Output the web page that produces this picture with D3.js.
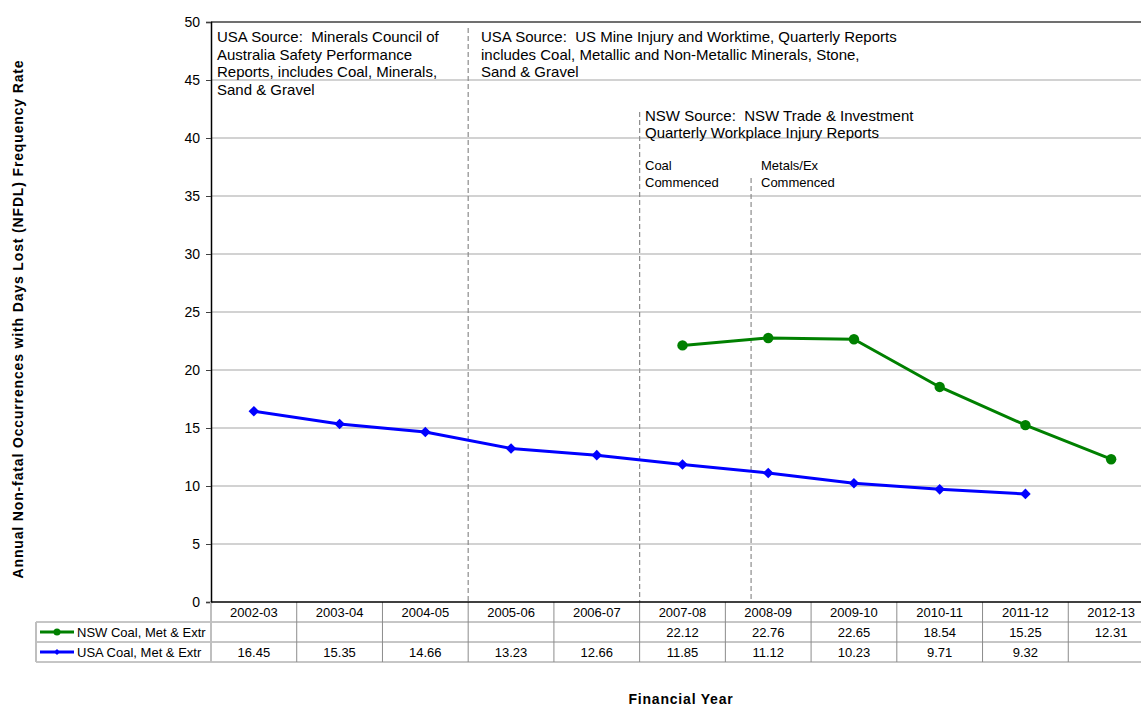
<!DOCTYPE html>
<html>
<head>
<meta charset="utf-8">
<script src="https://cdn.jsdelivr.net/npm/d3@7"></script>
<style>
  html, body { margin: 0; padding: 0; background: #fff; }
  svg { display: block; font-family: "Liberation Sans", Arial, sans-serif; }
</style>
</head>
<body>
<svg id="chart" width="1141" height="708"></svg>
<script>
const categories = ["2002-03","2003-04","2004-05","2005-06","2006-07","2007-08","2008-09","2009-10","2010-11","2011-12","2012-13"];
const nswValues = [null,null,null,null,null,22.12,22.76,22.65,18.54,15.25,12.31];
const usaValues = [16.45,15.35,14.66,13.23,12.66,11.85,11.12,10.23,9.71,9.32,null];
const seriesNames = ["NSW Coal, Met & Extr","USA Coal, Met & Extr"];
const seriesColors = ["#008000","#0000ff"];
const yTicks = [0,5,10,15,20,25,30,35,40,45,50];

(function () {
const svg = d3.select("#chart");
const pLeft = 211, pRight = 1154, pTop = 22, pBottom = 602;
const x = d3.scaleBand().domain(categories).range([pLeft, pRight]).padding(0);
const y = d3.scaleLinear().domain([0, 50]).range([pBottom, pTop]);
const cx = c => x(c) + x.bandwidth() / 2;

// gridlines
svg.append("g").selectAll("line").data(yTicks.filter(t => t > 0 && t < 50)).join("line")
  .attr("x1", pLeft).attr("x2", pRight)
  .attr("y1", d => y(d)).attr("y2", d => y(d))
  .attr("stroke", "#a6a6a6").attr("stroke-width", 1.2);
// top border
svg.append("line").attr("x1", pLeft).attr("x2", pRight).attr("y1", y(50)).attr("y2", y(50))
  .attr("stroke", "#404040").attr("stroke-width", 1.5);

// dashed annotation lines
const dashLines = [
  {pos: 3, frac: 0, yTop: 28},
  {pos: 5, frac: 0, yTop: 112},
  {pos: 6, frac: 0.3, yTop: 178}
];
svg.append("g").selectAll("line").data(dashLines).join("line")
  .attr("x1", d => x(categories[d.pos]) + d.frac * x.bandwidth())
  .attr("x2", d => x(categories[d.pos]) + d.frac * x.bandwidth())
  .attr("y1", d => d.yTop).attr("y2", pBottom)
  .attr("stroke", "#8c8c8c").attr("stroke-width", 1.2).attr("stroke-dasharray", "5,3");

// y axis
const yAxis = d3.axisLeft(y).tickValues(yTicks).tickSize(5).tickPadding(6).tickFormat(d3.format("d"));
const yg = svg.append("g").attr("transform", `translate(${pLeft},0)`).call(yAxis);
yg.select(".domain").attr("stroke", "#000").attr("stroke-width", 1.5);
yg.selectAll(".tick line").attr("stroke", "#404040");
yg.selectAll(".tick text").attr("font-size", 14).attr("fill", "#000").attr("font-family", "Liberation Sans, Arial, sans-serif");

// table
const rowH = 20;
const tableG = svg.append("g");
const tableLeft = 36;
const tableRows = [pBottom, pBottom + rowH, pBottom + 2*rowH, pBottom + 3*rowH];
[1,2,3].forEach(k => {
  tableG.append("line").attr("x1", tableLeft).attr("x2", pRight).attr("y1", tableRows[k]).attr("y2", tableRows[k]).attr("stroke", "#8c8c8c");
});
tableG.append("line").attr("x1", tableLeft).attr("x2", tableLeft).attr("y1", tableRows[1]).attr("y2", tableRows[3]).attr("stroke", "#bfbfbf").attr("stroke-width", 2);
tableG.append("line").attr("x1", pLeft).attr("x2", pLeft).attr("y1", pBottom).attr("y2", tableRows[3]).attr("stroke", "#bfbfbf").attr("stroke-width", 2);
tableG.selectAll("line.col").data(categories.slice(1).concat(["__end"])).join("line").attr("class", "col")
  .attr("x1", d => d === "__end" ? pRight : x(d)).attr("x2", d => d === "__end" ? pRight : x(d))
  .attr("y1", pBottom).attr("y2", tableRows[3]).attr("stroke", "#8c8c8c");
// x axis line
svg.append("line").attr("x1", pLeft).attr("x2", pRight).attr("y1", pBottom).attr("y2", pBottom)
  .attr("stroke", "#000").attr("stroke-width", 1.5);

// header labels
tableG.selectAll("text.cat").data(categories).join("text").attr("class", "cat")
  .attr("x", d => cx(d)).attr("y", pBottom + rowH/2 + 4.5)
  .attr("text-anchor", "middle").attr("font-size", 13).text(d => d);

const allSeries = [nswValues, usaValues];
const diamond = d3.symbol(d3.symbolSquare, 56)();
allSeries.forEach((vals, si) => {
  const rowY = pBottom + rowH * (si + 1) + rowH/2 + 4.5;
  tableG.selectAll(`text.v${si}`).data(categories.map((c, i) => ({c, v: vals[i]})).filter(d => d.v != null)).join("text")
    .attr("class", `v${si}`).attr("x", d => cx(d.c)).attr("y", rowY)
    .attr("text-anchor", "middle").attr("font-size", 13).text(d => d3.format(".2f")(d.v));
  const ly = pBottom + rowH * (si + 1) + rowH/2;
  tableG.append("line").attr("x1", 40).attr("x2", 74).attr("y1", ly).attr("y2", ly)
    .attr("stroke", seriesColors[si]).attr("stroke-width", 3);
  if (si === 0) {
    tableG.append("circle").attr("cx", 57).attr("cy", ly).attr("r", 3.5).attr("fill", seriesColors[si]);
  } else {
    tableG.append("path").attr("d", d3.symbol(d3.symbolSquare, 18)()).attr("transform", `translate(57,${ly}) rotate(45)`).attr("fill", seriesColors[si]);
  }
  tableG.append("text").attr("x", 77).attr("y", ly + 4.5).attr("font-size", 13).text(seriesNames[si]);
});

// lines
const line = d3.line().defined(d => d.v != null).x(d => cx(d.c)).y(d => y(d.v));
allSeries.forEach((vals, si) => {
  const data = categories.map((c, i) => ({c, v: vals[i]}));
  svg.append("path").datum(data).attr("d", line).attr("fill", "none")
    .attr("stroke", seriesColors[si]).attr("stroke-width", 3).attr("stroke-linejoin", "round");
  const pts = data.filter(d => d.v != null);
  if (si === 0) {
    svg.append("g").selectAll("circle").data(pts).join("circle")
      .attr("cx", d => cx(d.c)).attr("cy", d => y(d.v)).attr("r", 5.2).attr("fill", seriesColors[si]);
  } else {
    svg.append("g").selectAll("path").data(pts).join("path")
      .attr("d", diamond)
      .attr("transform", d => `translate(${cx(d.c)},${y(d.v)}) rotate(45)`).attr("fill", seriesColors[si]);
  }
});

// annotations
const annotations = [
  {x: 217, y: 42, size: 15, lh: 17.5, lines: ["USA Source:  Minerals Council of","Australia Safety Performance","Reports, includes Coal, Minerals,","Sand & Gravel"]},
  {x: 481, y: 42, size: 15, lh: 17.5, lines: ["USA Source:  US Mine Injury and Worktime, Quarterly Reports","includes Coal, Metallic and Non-Metallic Minerals, Stone,","Sand & Gravel"]},
  {x: 645, y: 121, size: 15, lh: 16.5, lines: ["NSW Source:  NSW Trade & Investment","Quarterly Workplace Injury Reports"]},
  {x: 645, y: 170, size: 13, lh: 16.5, lines: ["Coal","Commenced"]},
  {x: 761, y: 170, size: 13, lh: 16.5, lines: ["Metals/Ex","Commenced"]}
];
annotations.forEach(a => {
  const t = svg.append("text").attr("font-size", a.size).attr("fill", "#000").attr("xml:space", "preserve").style("white-space", "pre");
  a.lines.forEach((l, i) => t.append("tspan").attr("x", a.x).attr("y", a.y + i * a.lh).text(l));
});

// axis titles
svg.append("text").attr("transform", "translate(23,319) rotate(-90)")
  .attr("text-anchor", "middle").attr("font-size", 14).attr("font-weight", "bold")
  .attr("letter-spacing", 0.85)
  .text("Annual Non-fatal Occurrences with Days Lost (NFDL) Frequency Rate");
svg.append("text").attr("x", 681).attr("y", 704)
  .attr("text-anchor", "middle").attr("font-size", 14).attr("font-weight", "bold")
  .attr("letter-spacing", 0.8)
  .text("Financial Year");
})();
</script>
</body>
</html>
